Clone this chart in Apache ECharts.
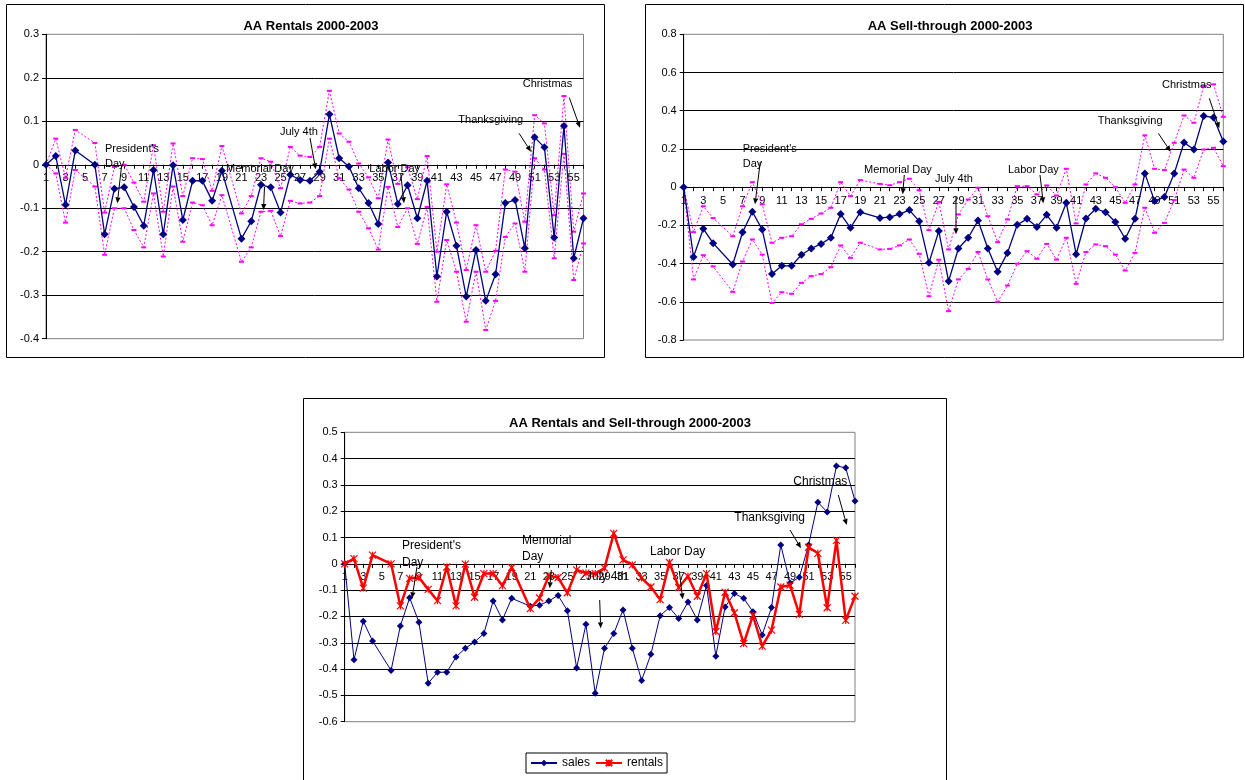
<!DOCTYPE html>
<html><head><meta charset="utf-8">
<script src="https://cdn.jsdelivr.net/npm/echarts@6/dist/echarts.min.js"></script>
<style>html,body{margin:0;padding:0;background:#fff}#c{width:1245px;height:780px}</style>
</head><body><div id="c"></div>
<script>
var categories = [];
for (var i = 1; i <= 56; i++) categories.push(String(i));

var rentals = [0,0.02,-0.092,0.033,null,0,-0.16,-0.055,-0.052,-0.097,-0.14,-0.012,-0.16,-0.001,-0.127,-0.037,-0.037,-0.083,-0.014,null,
  -0.17,-0.13,-0.046,-0.052,-0.11,-0.023,-0.035,-0.037,-0.016,0.116,0.015,-0.004,-0.054,-0.088,-0.136,0.005,-0.09,-0.047,-0.123,-0.037,
  -0.257,-0.108,-0.186,-0.303,-0.196,-0.313,-0.252,-0.088,-0.081,-0.192,0.063,0.04,-0.167,0.089,-0.215,-0.123];
var rentalsUpper = [0,0.06,-0.03,0.08,null,0.05,-0.11,-0.005,0,-0.041,-0.085,0.045,-0.108,0.049,-0.072,0.015,0.013,-0.06,0.043,null,
  -0.112,-0.072,0.015,0.007,-0.054,0.041,0.021,0.018,0.041,0.17,0.072,0.053,0.003,-0.029,-0.077,0.058,-0.044,-0.006,-0.079,0.02,
  -0.2,-0.045,-0.133,-0.242,-0.139,-0.246,-0.198,-0.011,-0.016,-0.131,0.114,0.095,-0.116,0.158,-0.154,-0.066];
var rentalsLower = [0,-0.02,-0.133,-0.012,null,-0.05,-0.207,-0.1,-0.1,-0.15,-0.19,-0.066,-0.211,-0.05,-0.177,-0.087,-0.093,-0.139,-0.07,null,
  -0.223,-0.19,-0.108,-0.106,-0.164,-0.083,-0.089,-0.087,-0.072,0.06,-0.031,-0.057,-0.108,-0.146,-0.195,-0.051,-0.143,-0.1,-0.182,-0.097,
  -0.315,-0.173,-0.246,-0.361,-0.246,-0.38,-0.313,-0.166,-0.135,-0.246,0.015,-0.011,-0.215,0.025,-0.265,-0.181];

var sales = [0,-0.365,-0.218,-0.293,null,-0.405,-0.236,-0.129,-0.222,-0.454,-0.412,-0.412,-0.354,-0.321,-0.297,-0.265,-0.141,-0.213,-0.131,null,
  -0.161,-0.157,-0.141,-0.12,-0.178,-0.396,-0.23,-0.492,-0.321,-0.265,-0.175,-0.321,-0.443,-0.344,-0.197,-0.166,-0.208,-0.145,-0.213,-0.082,
  -0.351,-0.164,-0.113,-0.131,-0.182,-0.27,-0.166,0.072,-0.073,-0.051,0.072,0.234,0.197,0.372,0.365,0.239];
var salesUpper = [0,-0.236,-0.1,-0.162,null,-0.257,-0.1,0.026,-0.09,-0.291,-0.265,-0.257,-0.194,-0.166,-0.138,-0.108,0.026,-0.047,0.037,null,
  0.017,0.01,0.026,0.044,-0.016,-0.225,-0.077,-0.326,-0.143,-0.065,-0.003,-0.152,-0.288,-0.169,0.005,0.005,-0.038,0.009,-0.044,0.096,
  -0.19,0.014,0.072,0.049,0.0,-0.082,0.014,0.271,0.096,0.089,0.232,0.375,0.337,0.529,0.538,0.368];
var salesLower = [0,-0.483,-0.356,-0.415,null,-0.548,-0.389,-0.274,-0.353,-0.606,-0.55,-0.558,-0.501,-0.466,-0.455,-0.419,-0.305,-0.37,-0.291,null,
  -0.326,-0.323,-0.305,-0.274,-0.349,-0.571,-0.38,-0.649,-0.483,-0.428,-0.339,-0.483,-0.6,-0.515,-0.401,-0.335,-0.375,-0.297,-0.379,-0.265,
  -0.506,-0.34,-0.3,-0.309,-0.353,-0.436,-0.344,-0.108,-0.239,-0.187,-0.068,0.092,0.049,0.197,0.206,0.11];

var titles = ['AA Rentals 2000-2003', 'AA Sell-through 2000-2003', 'AA Rentals and Sell-through 2000-2003'];
var legendNames = ['sales', 'rentals'];

var FONT = '"Liberation Sans", Arial, sans-serif';
var NAVY = '#000080', MAG = '#FF00FF', RED = '#FF0000';

var grids = [
  {left: 46, top: 34.3, width: 537.5, height: 304.4},
  {left: 683.7, top: 34.3, width: 539.6, height: 305.7},
  {left: 344.7, top: 432.3, width: 510.3, height: 289.4}
];
var yRanges = [[-0.4, 0.3, 0.1], [-0.8, 0.8, 0.2], [-0.6, 0.5, 0.1]];

var option = {
  animation: false,
  backgroundColor: '#fff',
  textStyle: {fontFamily: FONT},
  title: [
    {text: titles[0], left: 306, top: 15, textAlign: 'center', textStyle: {fontFamily: FONT, fontSize: 13, fontWeight: 'bold', color: '#000'}},
    {text: titles[1], left: 945, top: 15, textAlign: 'center', textStyle: {fontFamily: FONT, fontSize: 13, fontWeight: 'bold', color: '#000'}},
    {text: titles[2], left: 625, top: 412, textAlign: 'center', textStyle: {fontFamily: FONT, fontSize: 13, fontWeight: 'bold', color: '#000'}}
  ],
  legend: {
    data: legendNames, left: 526, top: 753, orient: 'horizontal',
    borderColor: '#000', borderWidth: 1, padding: [4, 4], itemGap: 5,
    itemWidth: 26, itemHeight: 8,
    textStyle: {fontFamily: FONT, fontSize: 12, color: '#000'}
  },
  grid: grids.map(function (g) {
    return {left: g.left, top: g.top, width: g.width, height: g.height, show: true, borderColor: '#808080', borderWidth: 1, containLabel: false};
  }),
  xAxis: grids.map(function (g, i) {
    var r = yRanges[i];
    // place the category axis on the y = 0 line (Excel style: axis crosses at zero)
    var off = -(0 - r[0]) / (r[1] - r[0]) * g.height;
    return {
      type: 'category', gridIndex: i, data: categories, boundaryGap: false,
      position: 'bottom', offset: off,
      axisLine: {onZero: false, lineStyle: {color: '#000', width: 1}},
      axisTick: {show: true, interval: 0, length: 4, lineStyle: {color: '#000'}},
      axisLabel: {interval: 1, fontSize: 11, color: '#000', margin: 8, fontFamily: FONT},
      splitLine: {show: false}
    };
  }),
  yAxis: yRanges.map(function (r, i) {
    return {
      type: 'value', gridIndex: i, min: r[0], max: r[1], interval: r[2],
      axisLine: {show: true, lineStyle: {color: '#000', width: 1}},
      axisTick: {show: true, length: 4, lineStyle: {color: '#000'}},
      axisLabel: {fontSize: 11, color: '#000', margin: 7, fontFamily: FONT,
        formatter: function (v) { return String(Math.round(v * 10) / 10); }},
      splitLine: {show: true, showMinLine: false, showMaxLine: false, lineStyle: {color: '#000', width: 1}}
    };
  }),
  series: []
};

function bound(name, data, gi) {
  return {name: name, type: 'line', xAxisIndex: gi, yAxisIndex: gi, data: data, connectNulls: true,
    symbol: 'rect', symbolSize: [5, 2], showSymbol: true, showAllSymbol: true,
    lineStyle: {color: MAG, width: 1, type: [2, 2]}, itemStyle: {color: MAG}, silent: true, z: 2};
}
function meanLine(name, data, gi) {
  return {name: name, type: 'line', xAxisIndex: gi, yAxisIndex: gi, data: data, connectNulls: true,
    symbol: 'diamond', symbolSize: 8, showSymbol: true, showAllSymbol: true,
    lineStyle: {color: NAVY, width: 1.3}, itemStyle: {color: NAVY}, silent: true, z: 3};
}
option.series.push(bound('rentals upper', rentalsUpper, 0));
option.series.push(bound('rentals lower', rentalsLower, 0));
option.series.push(meanLine('rentals mean', rentals, 0));
option.series.push(bound('sales upper', salesUpper, 1));
option.series.push(bound('sales lower', salesLower, 1));
option.series.push(meanLine('sales mean', sales, 1));
option.series.push({name: 'sales', type: 'line', xAxisIndex: 2, yAxisIndex: 2, data: sales, connectNulls: true,
  symbol: 'diamond', symbolSize: 7, showAllSymbol: true, lineStyle: {color: NAVY, width: 1}, itemStyle: {color: NAVY}, z: 3});
option.series.push({name: 'rentals', type: 'line', xAxisIndex: 2, yAxisIndex: 2, data: rentals, connectNulls: true,
  symbol: 'path://M0,0L8,8M8,0L0,8M4,0L4,8', symbolSize: 7, showAllSymbol: true,
  lineStyle: {color: RED, width: 2.5}, itemStyle: {color: RED, borderColor: RED, borderWidth: 1.2}, z: 4});

// annotations
var notes = [
  // panel 1
  ["President's\nDay", 105, 141, 11, 121.7, 165, 117.3, 203.3],
  ['Memorial Day', 226, 161, 11, 264.5, 187, 263.5, 210],
  ['July 4th', 280, 124, 11, 310, 138, 315.7, 169.3],
  ['Labor Day', 369.3, 161, 11, 400.7, 173.3, 404, 203.3],
  ['Thanksgiving', 458.3, 112, 11, 519, 133.3, 531, 151.7],
  ['Christmas', 522.7, 76, 11, 569.3, 97.7, 580, 127.7],
  // panel 2
  ["President's\nDay", 742.7, 141.5, 11, 760.3, 161.7, 755, 204.3],
  ['Memorial Day', 864, 162, 11, 904.3, 175, 902.7, 194.3],
  ['July 4th', 935, 171, 11, 956, 196.7, 956, 234.3],
  ['Labor Day', 1008, 162, 11, 1040, 175, 1043.3, 203.3],
  ['Thanksgiving', 1097.7, 113, 11, 1158.3, 133.3, 1170.7, 151.7],
  ['Christmas', 1162, 77, 11, 1209.3, 98.3, 1219.3, 128.3],
  // panel 3
  ["President's\nDay", 402, 537.5, 12, 417, 566.7, 412, 598.3],
  ['Memorial\nDay', 522, 532, 12, 551.3, 570, 549.7, 588.3],
  ['July 4th', 586, 568, 12, 599.7, 600, 600.7, 628.3],
  ['Labor Day', 650, 543, 12, 679.3, 571, 682.7, 599.3],
  ['Thanksgiving', 734.3, 509, 12, 790, 530, 801, 548.3],
  ['Christmas', 793.3, 473, 12, 838.3, 495, 846.7, 525]
];
var graphics = [
  {type: 'rect', shape: {x: 6.5, y: 4.5, width: 598, height: 353}, style: {fill: 'none', stroke: '#000', lineWidth: 1}, z: 0, silent: true},
  {type: 'rect', shape: {x: 645.5, y: 4.5, width: 598, height: 353}, style: {fill: 'none', stroke: '#000', lineWidth: 1}, z: 0, silent: true},
  {type: 'rect', shape: {x: 303.5, y: 398.5, width: 643, height: 400}, style: {fill: 'none', stroke: '#000', lineWidth: 1}, z: 0, silent: true}
];
notes.forEach(function (n) {
  var fs = n[3];
  graphics.push({type: 'text', x: n[1], y: n[2], z: 100, silent: true,
    style: {text: n[0], font: fs + 'px ' + FONT, fill: '#000', lineHeight: fs === 12 ? 16.6 : 15, textVerticalAlign: 'top', verticalAlign: 'top'}});
  var x1 = n[4], y1 = n[5], x2 = n[6], y2 = n[7];
  var dx = x2 - x1, dy = y2 - y1, L = Math.sqrt(dx * dx + dy * dy);
  var ux = dx / L, uy = dy / L, hl = 6, hw = 2.6;
  var bx = x2 - ux * hl, by = y2 - uy * hl;
  graphics.push({type: 'line', z: 100, silent: true, shape: {x1: x1, y1: y1, x2: bx, y2: by}, style: {stroke: '#000', lineWidth: 1}});
  graphics.push({type: 'polygon', z: 100, silent: true,
    shape: {points: [[x2, y2], [bx - uy * hw, by + ux * hw], [bx + uy * hw, by - ux * hw]]}, style: {fill: '#000'}});
});
option.graphic = graphics;

var chart = echarts.init(document.getElementById('c'), null, {renderer: 'canvas'});
chart.setOption(option);
</script>
</body></html>
